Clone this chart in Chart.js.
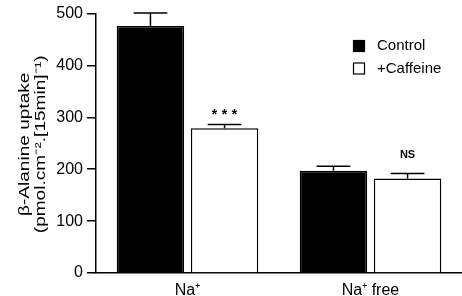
<!DOCTYPE html>
<html>
<head>
<meta charset="utf-8">
<script src="https://cdn.jsdelivr.net/npm/chart.js@4/dist/chart.umd.min.js"></script>
<style>
  html, body { margin: 0; padding: 0; background: #fff; }
  #wrap { width: 462px; height: 296px; }
</style>
</head>
<body>
<div id="wrap"><canvas id="chart"></canvas></div>
<script>
// data
const categories = ['Na\u207A', 'Na\u207A free'];
const seriesNames = ['Control', '+Caffeine'];
const controlValues = [476, 197];
const controlErrors = [25, 9];
const caffeineValues = [279, 182];
const caffeineErrors = [7, 10];
const caffeineMarks = ['***', 'NS'];
const yTicks = [0, 100, 200, 300, 400, 500];
const yTitle = ['\u03B2-Alanine uptake', '(pmol.cm\u207B\u00B2.[15min]\u207B\u00B9)'];

const FONT = "'Liberation Sans', Arial, Helvetica, sans-serif";

// error bars (upward only) and significance marks
const errorBarPlugin = {
    id: 'errorBars',
    afterDatasetsDraw: function(chart) {
        const ctx = chart.ctx;
        const yScale = chart.scales.y;
        ctx.save();
        ctx.strokeStyle = '#000';
        ctx.lineWidth = 1.5;
        chart.data.datasets.forEach(function(ds, di) {
            const meta = chart.getDatasetMeta(di);
            meta.data.forEach(function(bar, i) {
                const top = yScale.getPixelForValue(ds.data[i] + ds.errors[i]);
                const half = bar.width / 4;
                ctx.beginPath();
                ctx.moveTo(bar.x, bar.y);
                ctx.lineTo(bar.x, top);
                ctx.moveTo(bar.x - half, top);
                ctx.lineTo(bar.x + half, top);
                ctx.stroke();

                if (ds.marks) {
                    const m = ds.marks[i];
                    ctx.fillStyle = '#000';
                    ctx.textAlign = 'center';
                    ctx.textBaseline = 'alphabetic';
                    if (m === 'NS') {
                        ctx.font = 'bold 11px ' + FONT;
                        ctx.fillText(m, bar.x, top - 15);
                    } else {
                        // spread the stars out like the original
                        ctx.font = 'bold 14px ' + FONT;
                        for (let k = 0; k < m.length; k++) {
                            ctx.fillText(m[k], bar.x + (k - (m.length - 1) / 2) * 10, top - 6);
                        }
                    }
                }
            });
        });
        ctx.restore();
    }
};

// legend in the top right corner + rotated y title (stretched, wide font in the original)
const extrasPlugin = {
    id: 'extras',
    afterDraw: function(chart) {
        const ctx = chart.ctx;
        const area = chart.chartArea;
        ctx.save();
        ctx.font = '15px ' + FONT;
        ctx.textBaseline = 'middle';
        ctx.textAlign = 'left';
        chart.data.datasets.forEach(function(ds, di) {
            const y = 46 + di * 22.5;
            ctx.fillStyle = ds.backgroundColor;
            ctx.fillRect(353.5, y - 5.5, 11, 11);
            ctx.strokeStyle = '#000';
            ctx.lineWidth = 1.2;
            ctx.strokeRect(353.5, y - 5.5, 11, 11);
            ctx.fillStyle = '#000';
            ctx.fillText(ds.label, 377, y);
        });

        const cy = (area.top + area.bottom) / 2 + 1;
        ctx.font = '15px ' + FONT;
        ctx.textAlign = 'center';
        ctx.textBaseline = 'middle';
        [25, 41].forEach(function(x, i) {
            ctx.save();
            ctx.translate(x, cy);
            ctx.rotate(-Math.PI / 2);
            ctx.scale(1.27, 1);
            ctx.fillText(yTitle[i], 0, 0);
            ctx.restore();
        });
        ctx.restore();
    }
};

const chart = new Chart(document.getElementById('chart'), {
    type: 'bar',
    data: {
        labels: categories,
        datasets: [
            {
                label: seriesNames[0],
                data: controlValues,
                errors: controlErrors,
                backgroundColor: '#000',
                borderColor: '#000',
                borderWidth: 1.5,
                categoryPercentage: 0.81,
                barPercentage: 0.91
            },
            {
                label: seriesNames[1],
                data: caffeineValues,
                errors: caffeineErrors,
                marks: caffeineMarks,
                backgroundColor: '#fff',
                borderColor: '#000',
                borderWidth: 1.5,
                categoryPercentage: 0.81,
                barPercentage: 0.91
            }
        ]
    },
    options: {
        responsive: true,
        maintainAspectRatio: false,
        animation: false,
        layout: { padding: { top: 12, right: 0, left: 0, bottom: 0 } },
        plugins: {
            legend: { display: false },
            tooltip: { enabled: false }
        },
        scales: {
            x: {
                grid: { display: false },
                border: { color: '#000', width: 1.5 },
                ticks: { color: '#000', font: { family: FONT, size: 16 }, padding: 0 },
                afterFit: function(scale) { scale.height = 23; }
            },
            y: {
                min: 0,
                max: 500,
                afterBuildTicks: function(scale) {
                    scale.ticks = yTicks.map(function(v) { return { value: v }; });
                },
                grid: { drawOnChartArea: false, drawTicks: true, tickLength: 9, color: '#000', lineWidth: 1.5 },
                border: { color: '#000', width: 1.5 },
                ticks: { color: '#000', font: { family: FONT, size: 16 }, padding: 4 },
                afterFit: function(scale) { scale.width = 96; }
            }
        }
    },
    plugins: [errorBarPlugin, extrasPlugin]
});
</script>
</body>
</html>
